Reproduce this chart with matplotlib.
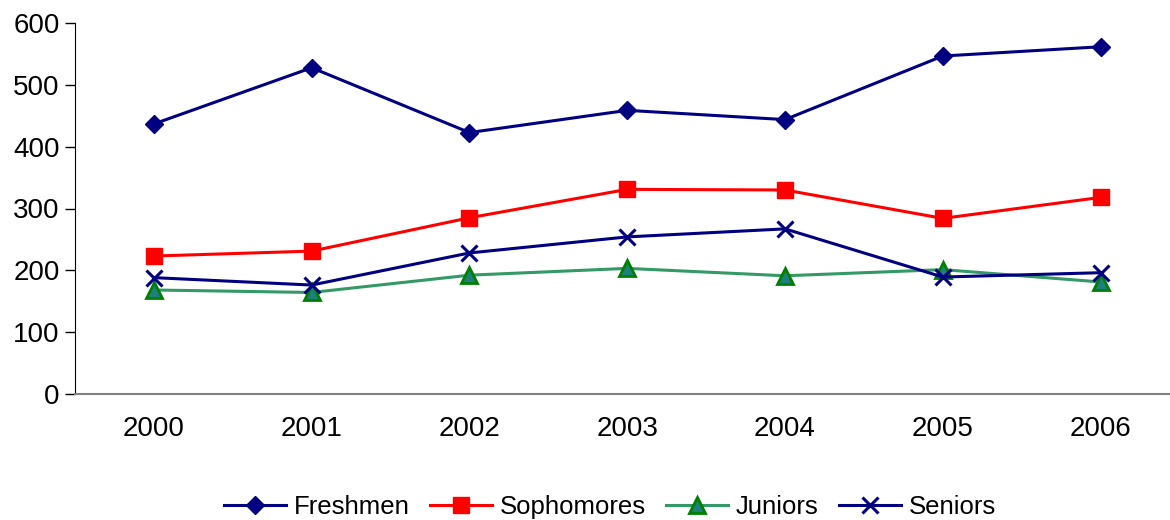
import matplotlib
matplotlib.use("Agg")
import matplotlib.pyplot as plt
import numpy as np

years = ["2000", "2001", "2002", "2003", "2004", "2005", "2006"]
freshmen = [437, 528, 423, 459, 444, 547, 562]
sophomores = [223, 231, 285, 331, 330, 284, 318]
juniors = [168, 164, 192, 203, 191, 201, 181]
seniors = [188, 176, 228, 254, 267, 189, 196]

plt.rcParams['font.family'] = ['Liberation Sans', 'DejaVu Sans']

fig = plt.figure(figsize=(11.7, 5.2), dpi=100)
ax = fig.add_axes([75 / 1170, 126.3 / 520, 1 - 75 / 1170, (393.7 - 23.3) / 520])

x = np.arange(len(years))
ax.plot(x, freshmen, color="#000080", lw=2.2, marker="D", ms=9, label="Freshmen")
ax.plot(x, sophomores, color="#FF0000", lw=2.2, marker="s", ms=11, label="Sophomores")
ax.plot(x, juniors, color="#339966", lw=2.2, marker="^", ms=11, mfc="#1F7F7F",
        mec="#008000", mew=2, label="Juniors")
ax.plot(x, seniors, color="#000080", lw=2.2, marker="x", ms=11, mew=2.2, label="Seniors")

ax.set_ylim(0, 600)
ax.set_yticks(range(0, 601, 100))
ax.set_xlim(-0.5, 6.44)
ax.set_xticks(x)
ax.set_xticklabels(years)

for s in ["top", "right"]:
    ax.spines[s].set_visible(False)
ax.spines["left"].set_color("black")
ax.spines["bottom"].set_color("#808080")
ax.spines["bottom"].set_linewidth(1.5)
ax.tick_params(axis="y", length=7, width=1, labelsize=20, pad=4)
ax.tick_params(axis="x", length=0, labelsize=20, pad=16)

fig.legend(loc="center", bbox_to_anchor=(610 / 1170, 13 / 520), ncol=4,
           frameon=False, fontsize=18.5, handlelength=2.4, columnspacing=0.8,
           handletextpad=0.3, borderpad=0.1)

fig.savefig("out.png", dpi=100)
